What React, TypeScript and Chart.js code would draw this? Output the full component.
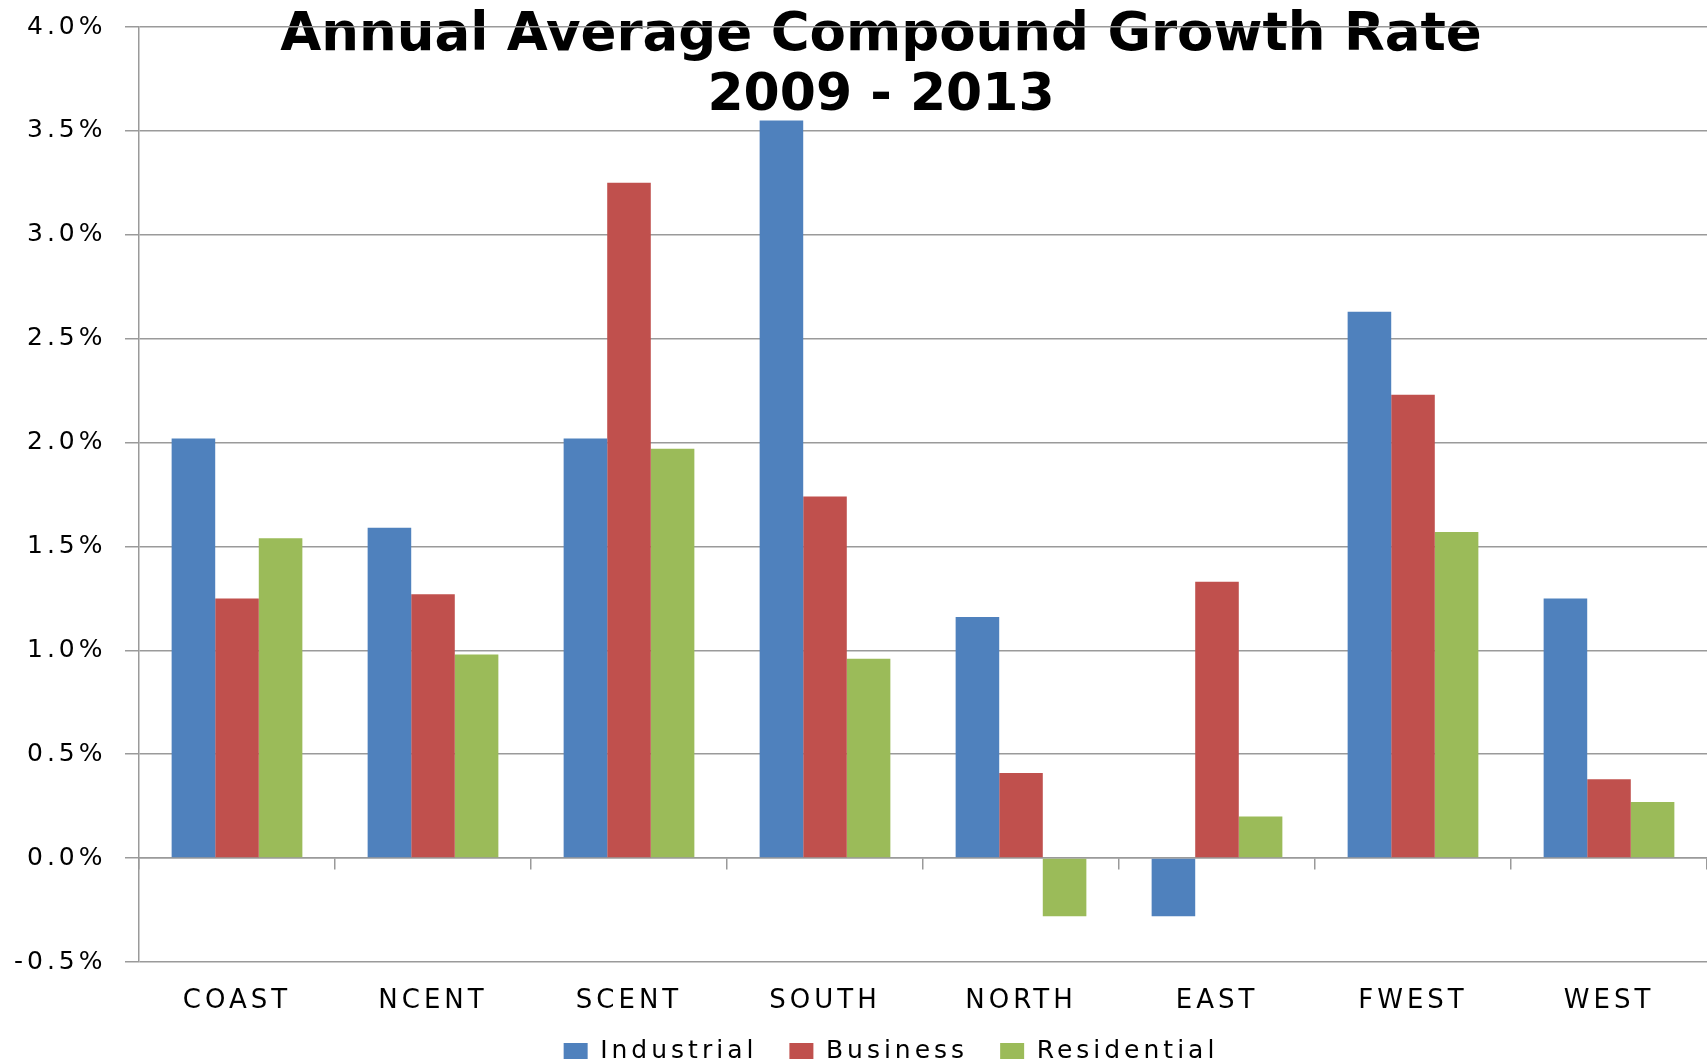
import React, { useEffect, useRef } from "react";
import { Chart, registerables } from "chart.js";

Chart.register(...registerables);

const categories = ["COAST", "NCENT", "SCENT", "SOUTH", "NORTH", "EAST", "FWEST", "WEST"];
const seriesNames = ["Industrial", "Business", "Residential"];
const industrial = [2.02, 1.59, 2.02, 3.55, 1.16, -0.28, 2.63, 1.25];
const business = [1.25, 1.27, 3.25, 1.74, 0.41, 1.33, 2.23, 0.38];
const residential = [1.54, 0.98, 1.97, 0.96, -0.28, 0.2, 1.57, 0.27];
const seriesColors = ["#4F81BD", "#C0504D", "#9BBB59"];
const titleLines = ["Annual Average Compound Growth Rate", "2009 - 2013"];
const yMin = -0.5;
const yMax = 4.0;
const yStep = 0.5;

const GRID = "#9a9a9a";
const FONT = "'DejaVu Sans', Verdana, sans-serif";
const SPACING = "4px";
const TITLE_CX = 881;

const spacingPlugin = {
  id: "letterSpacing",
  beforeUpdate(chart: any) {
    chart.ctx.letterSpacing = SPACING;
  },
  beforeDraw(chart: any) {
    chart.ctx.letterSpacing = SPACING;
  },
};

const titlePlugin = {
  id: "customTitle",
  beforeDraw(chart: any) {
    const ctx = chart.ctx;
    ctx.save();
    ctx.letterSpacing = "0px";
    ctx.fillStyle = "#000";
    ctx.textAlign = "center";
    ctx.textBaseline = "alphabetic";
    ctx.font = `bold 53px ${FONT}`;
    ctx.fillText(titleLines[0], TITLE_CX, 50);
    ctx.font = `bold 52px ${FONT}`;
    ctx.fillText(titleLines[1], TITLE_CX, 110);
    ctx.restore();
  },
};

export default function App() {
  const ref = useRef<HTMLCanvasElement | null>(null);

  useEffect(() => {
    if (!ref.current) return;
    const chart = new Chart(ref.current, {
      type: "bar",
      data: {
        labels: categories,
        datasets: [
          { label: seriesNames[0], data: industrial, backgroundColor: seriesColors[0], borderWidth: 0 },
          { label: seriesNames[1], data: business, backgroundColor: seriesColors[1], borderWidth: 0 },
          { label: seriesNames[2], data: residential, backgroundColor: seriesColors[2], borderWidth: 0 },
        ],
      },
      options: {
        responsive: false,
        animation: false,
        devicePixelRatio: 1,
        datasets: { bar: { categoryPercentage: 0.667, barPercentage: 1 } },
        layout: { padding: { top: 27, bottom: -10.5, left: 0, right: 0 } },
        plugins: {
          title: { display: false },
          tooltip: { enabled: false },
          legend: {
            display: true,
            position: "bottom",
            labels: {
              font: { family: FONT, size: 25 },
              color: "#000",
              boxWidth: 24,
              boxHeight: 16,
              padding: 32,
            },
          },
        },
        scales: {
          x: {
            type: "category",
            axis: "x",
            position: { y: yMin },
            offset: true,
            grid: { display: false, drawTicks: false, offset: true },
            border: { display: false },
            ticks: {
              font: { family: FONT, size: 26 },
              color: "#000",
              padding: 24,
              maxRotation: 0,
              autoSkip: false,
            },
          },
          x2: {
            type: "category",
            axis: "x",
            labels: categories,
            position: { y: 0 },
            offset: true,
            grid: {
              display: true,
              offset: true,
              drawOnChartArea: false,
              drawTicks: true,
              tickLength: 11,
              color: GRID,
              lineWidth: 1.5,
            },
            border: { display: true, color: GRID, width: 1.5 },
            ticks: { display: false },
          },
          x3: {
            type: "linear",
            axis: "x",
            position: "bottom",
            display: true,
            grid: { display: false, drawTicks: false },
            border: { display: false },
            ticks: { display: false },
            afterFit: (s: any) => {
              s.height = 44.5;
              s.paddingLeft = 0;
              s.paddingRight = 0;
            },
          },
          y: {
            type: "linear",
            position: "left",
            min: yMin,
            max: yMax,
            ticks: {
              stepSize: yStep,
              font: { family: FONT, size: 25 },
              color: "#000",
              padding: 18.5,
              callback: (v: any) => Number(v).toFixed(1) + "%",
            },
            grid: { color: GRID, lineWidth: 1.5, tickLength: 14, drawTicks: true },
            border: { display: true, color: GRID, width: 1.5 },
            afterFit: (s: any) => {
              s.width = 139;
              s.paddingTop = 0;
              s.paddingBottom = 0;
            },
          },
          y2: {
            type: "linear",
            position: "right",
            display: true,
            grid: { display: false, drawTicks: false },
            border: { display: false },
            ticks: { display: false },
            afterFit: (s: any) => {
              s.width = 75;
              s.paddingTop = 0;
              s.paddingBottom = 0;
            },
          },
        },
      },
      plugins: [spacingPlugin, titlePlugin],
    } as any);
    return () => chart.destroy();
  }, []);

  return (
    <div
      style={{
        position: "fixed",
        left: 0,
        top: 0,
        width: 1707,
        height: 1063,
        overflow: "hidden",
        background: "#fff",
      }}
    >
      <canvas ref={ref} width={1782} height={1063} style={{ display: "block" }} />
    </div>
  );
}
